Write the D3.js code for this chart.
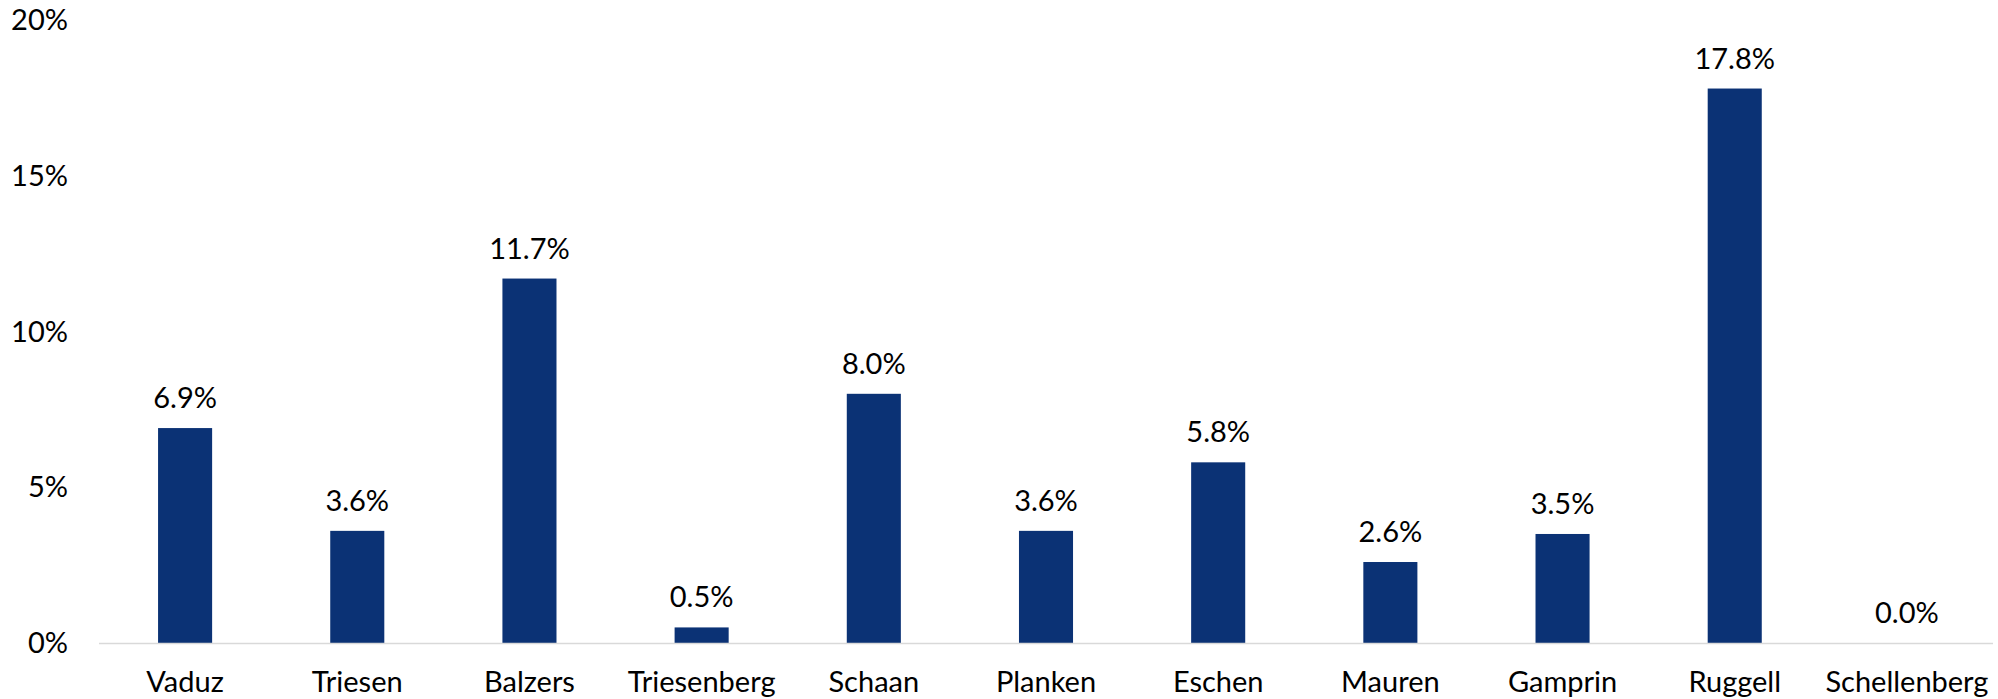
<!DOCTYPE html>
<html><head><meta charset="utf-8">
<script src="https://cdn.jsdelivr.net/npm/d3@7"></script>
<style>body{margin:0;background:#fff}svg{display:block}text{font-family:Lato,"Open Sans",sans-serif;fill:#000}</style>
</head><body><svg id="c" width="1998" height="699"></svg>
<script>
const categories = ["Vaduz","Triesen","Balzers","Triesenberg","Schaan","Planken","Eschen","Mauren","Gamprin","Ruggell","Schellenberg"];
const values = [6.9,3.6,11.7,0.5,8.0,3.6,5.8,2.6,3.5,17.8,0.0];
const yTicks = [0,5,10,15,20];

(function(){
const svg = d3.select("#c");
const mLeft = 99, mRight = 1993, mTop = 20, mBottom = 643;
const x = d3.scaleBand().domain(categories).range([mLeft, mRight]).paddingInner(0.686).paddingOuter(0.343);
const y = d3.scaleLinear().domain([0,20]).range([mBottom, mTop]);
const fs = 29;

svg.append("g").selectAll("text").data(yTicks).join("text")
  .attr("x", 68).attr("y", d => y(d)).attr("dy", "0.35em")
  .attr("text-anchor", "end").style("font-size", fs + "px")
  .text(d => d + "%");

svg.append("g").selectAll("rect").data(values).join("rect")
  .attr("x", (d,i) => x(categories[i])).attr("width", x.bandwidth())
  .attr("y", d => y(d)).attr("height", d => mBottom - y(d))
  .attr("fill", "#0B3275");

svg.append("line").attr("x1", mLeft).attr("x2", mRight).attr("y1", mBottom + 0.5).attr("y2", mBottom + 0.5)
  .attr("stroke", "#d9d9d9").attr("stroke-width", 1.5);

svg.append("g").selectAll("text").data(values).join("text")
  .attr("x", (d,i) => x(categories[i]) + x.bandwidth()/2)
  .attr("y", d => y(d) - 20)
  .attr("text-anchor", "middle").style("font-size", fs + "px")
  .text(d => d.toFixed(1) + "%");

svg.append("g").selectAll("text").data(categories).join("text")
  .attr("x", d => x(d) + x.bandwidth()/2).attr("y", 692)
  .attr("text-anchor", "middle").style("font-size", fs + "px")
  .text(d => d);
})();
</script></body></html>
